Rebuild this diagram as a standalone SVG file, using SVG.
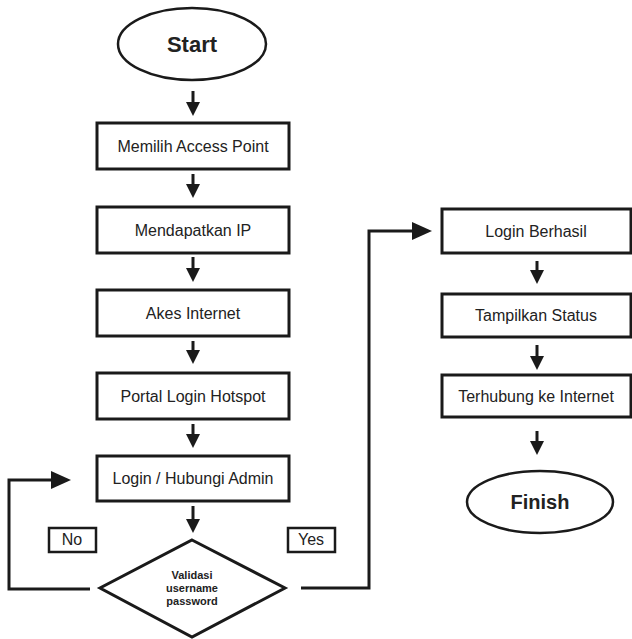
<svg xmlns="http://www.w3.org/2000/svg" width="632" height="639" viewBox="0 0 632 639">
<style>
.box{fill:#fff;stroke:#1a1a1a;stroke-width:3}
.term{fill:#fff;stroke:#1a1a1a;stroke-width:2.5}
.lbl{fill:#fff;stroke:#1a1a1a;stroke-width:2.5}
.t{font-family:"Liberation Sans",Arial,sans-serif;font-size:16px;fill:#222;text-anchor:middle}
.tb{font-family:"Liberation Sans",Arial,sans-serif;font-weight:bold;fill:#222;text-anchor:middle}
.c{fill:none;stroke:#1a1a1a;stroke-width:3}
</style>
<defs>
<marker id="ah" markerUnits="userSpaceOnUse" markerWidth="14" markerHeight="14" refX="0" refY="7" orient="auto" overflow="visible">
<path d="M0,0 L14,7 L0,14 Z" fill="#1a1a1a"/>
</marker>
<marker id="ahL" markerUnits="userSpaceOnUse" markerWidth="20" markerHeight="18" refX="0" refY="9" orient="auto" overflow="visible">
<path d="M0,0 L20,9 L0,18 Z" fill="#1a1a1a"/>
</marker>
</defs>
<g id="connectors">
<line class="c" x1="193" y1="91" x2="193" y2="102" marker-end="url(#ah)"/>
<line class="c" x1="193" y1="174" x2="193" y2="184" marker-end="url(#ah)"/>
<line class="c" x1="193" y1="257" x2="193" y2="268" marker-end="url(#ah)"/>
<line class="c" x1="193" y1="341" x2="193" y2="350" marker-end="url(#ah)"/>
<line class="c" x1="193" y1="424" x2="193" y2="434" marker-end="url(#ah)"/>
<line class="c" x1="193" y1="506" x2="193" y2="519" marker-end="url(#ah)"/>
<line class="c" x1="537" y1="261" x2="537" y2="270" marker-end="url(#ah)"/>
<line class="c" x1="537" y1="345" x2="537" y2="356" marker-end="url(#ah)"/>
<line class="c" x1="537" y1="431" x2="537" y2="441" marker-end="url(#ah)"/>
<path class="c" d="M90,589 H9 V480 H51" marker-end="url(#ahL)"/>
<path class="c" d="M301,588 H369 V231 H412" marker-end="url(#ahL)"/>
</g>
<g id="start">
<ellipse class="term" cx="192" cy="44" rx="74" ry="36"/>
<text class="tb" x="192" y="52" font-size="22">Start</text>
</g>
<g id="memilih">
<rect class="box" x="97" y="123" width="192" height="46"/>
<text class="t" x="193" y="152">Memilih Access Point</text>
</g>
<g id="mendapatkan">
<rect class="box" x="97" y="207" width="192" height="46"/>
<text class="t" x="193" y="236">Mendapatkan IP</text>
</g>
<g id="akses">
<rect class="box" x="97" y="290" width="192" height="46"/>
<text class="t" x="193" y="319">Akes Internet</text>
</g>
<g id="portal">
<rect class="box" x="97" y="373" width="192" height="46"/>
<text class="t" x="193" y="402">Portal Login Hotspot</text>
</g>
<g id="login">
<rect class="box" x="97" y="456" width="192" height="45"/>
<text class="t" x="193" y="484">Login / Hubungi Admin</text>
</g>
<g id="validasi">
<polygon class="box" points="192,540 285,588 192,637 100,588"/>
<text class="tb" x="192" y="579" font-size="11">Validasi</text>
<text class="tb" x="192" y="592" font-size="11">username</text>
<text class="tb" x="192" y="605" font-size="11">password</text>
</g>
<g id="no">
<rect class="lbl" x="49" y="528" width="47" height="24"/>
<text class="t" x="72" y="545" font-size="14">No</text>
</g>
<g id="yes">
<rect class="lbl" x="288" y="528" width="47" height="24"/>
<text class="t" x="311" y="545" font-size="14">Yes</text>
</g>
<g id="berhasil">
<rect class="box" x="442" y="209" width="189" height="44"/>
<text class="t" x="536" y="237">Login Berhasil</text>
</g>
<g id="status">
<rect class="box" x="442" y="294" width="189" height="43"/>
<text class="t" x="536" y="321">Tampilkan Status</text>
</g>
<g id="terhubung">
<rect class="box" x="442" y="375" width="189" height="42"/>
<text class="t" x="536" y="402">Terhubung ke Internet</text>
</g>
<g id="finish">
<ellipse class="term" cx="540" cy="502" rx="73" ry="31"/>
<text class="tb" x="540" y="509" font-size="20">Finish</text>
</g>
</svg>
